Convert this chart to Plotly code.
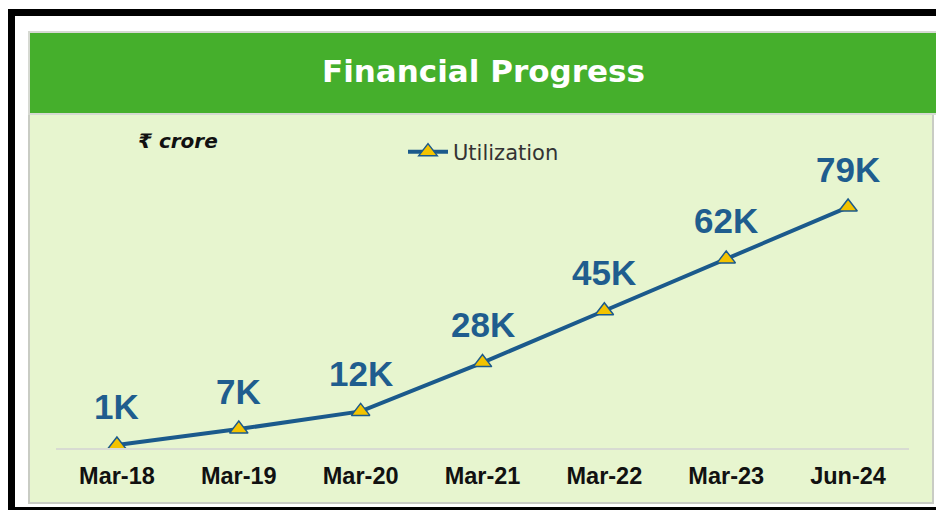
import plotly.graph_objects as go

# ---- data ----
periods = ["Mar-18", "Mar-19", "Mar-20", "Mar-21", "Mar-22", "Mar-23", "Jun-24"]
utilization = [1.0, 6.2, 12, 28, 45, 62, 79]          # ₹ thousand crore
value_labels = ["1K", "7K", "12K", "28K", "45K", "62K", "79K"]
series_name = "Utilization"
title_text = "Financial Progress"
unit_text = "₹ crore"

W, H = 936, 510
def fx(px):
    return px / W
def fy(py):
    return 1 - py / H

BLUE = "#1B5A8C"
LABEL_BLUE = "#1F5D8E"
YELLOW = "#F3C300"
HEADER = "#45AF2C"
PANEL = "#E7F5CF"

fig = go.Figure()
fig.add_trace(go.Scatter(
    x=periods, y=utilization, name=series_name,
    mode="lines+markers",
    line=dict(color=BLUE, width=4),
    marker=dict(symbol="triangle-up", size=16, color=YELLOW,
                line=dict(color=BLUE, width=1.5)),
    hoverinfo="x+y",
))

for p, v, t in zip(periods, utilization, value_labels):
    fig.add_annotation(x=p, y=v, text=t, showarrow=False, yshift=38,
                       xref="x", yref="y",
                       font=dict(family="Liberation Sans, Arial, sans-serif",
                                 size=35, color=LABEL_BLUE, weight="bold"))

shapes = [
    # outer black frame pieces
    dict(type="rect", xref="paper", yref="paper", x0=fx(8), x1=fx(960), y0=fy(16), y1=fy(9),
         fillcolor="black", line=dict(width=0), layer="below"),
    dict(type="rect", xref="paper", yref="paper", x0=fx(8), x1=fx(15), y0=fy(509), y1=fy(9),
         fillcolor="black", line=dict(width=0), layer="below"),
    dict(type="rect", xref="paper", yref="paper", x0=fx(8), x1=fx(960), y0=fy(510), y1=fy(507),
         fillcolor="black", line=dict(width=0), layer="below"),
    # light panel
    dict(type="rect", xref="paper", yref="paper", x0=fx(29), x1=fx(933), y0=fy(503), y1=fy(113),
         fillcolor=PANEL, line=dict(color="#C9CCC4", width=2), layer="below"),
    # green header
    dict(type="rect", xref="paper", yref="paper", x0=fx(29), x1=fx(960), y0=fy(114), y1=fy(32),
         fillcolor=HEADER, line=dict(color="#D6D9D2", width=2), layer="below"),
]

fig.add_annotation(x=fx(483), y=fy(71), xref="paper", yref="paper", text=title_text,
                   showarrow=False, xanchor="center", yanchor="middle",
                   font=dict(family="DejaVu Sans, Verdana, sans-serif", size=31,
                             color="white", weight="bold"))
fig.add_annotation(x=fx(136), y=fy(141), xref="paper", yref="paper", text=unit_text,
                   showarrow=False, xanchor="left", yanchor="middle",
                   font=dict(family="DejaVu Sans, Verdana, sans-serif", size=20,
                             color="#111111", weight="bold", style="italic"))

fig.update_layout(
    width=W, height=H,
    margin=dict(l=0, r=0, t=0, b=0),
    paper_bgcolor="white",
    plot_bgcolor="rgba(0,0,0,0)",
    shapes=shapes,
    showlegend=True,
    legend=dict(x=fx(403), y=fy(152), xanchor="left", yanchor="middle",
                bgcolor="rgba(0,0,0,0)", itemwidth=40,
                font=dict(family="DejaVu Sans, Verdana, sans-serif", size=21, color="#333333")),
    xaxis=dict(domain=[fx(56), fx(909)], range=[-0.5, 6.5], type="category",
               showgrid=False, zeroline=False, showline=True, linecolor="#D8DBD2", linewidth=2,
               ticks="", ticklabelstandoff=6,
               tickfont=dict(family="Liberation Sans, Arial, sans-serif", size=23.5,
                             color="#111111", weight="bold")),
    yaxis=dict(domain=[fy(448), fy(143)], range=[0, 100], visible=False),
)

fig.write_html("out.html", config={"displayModeBar": False},
               post_script="document.body.style.margin='0';document.body.style.overflow='hidden';")
